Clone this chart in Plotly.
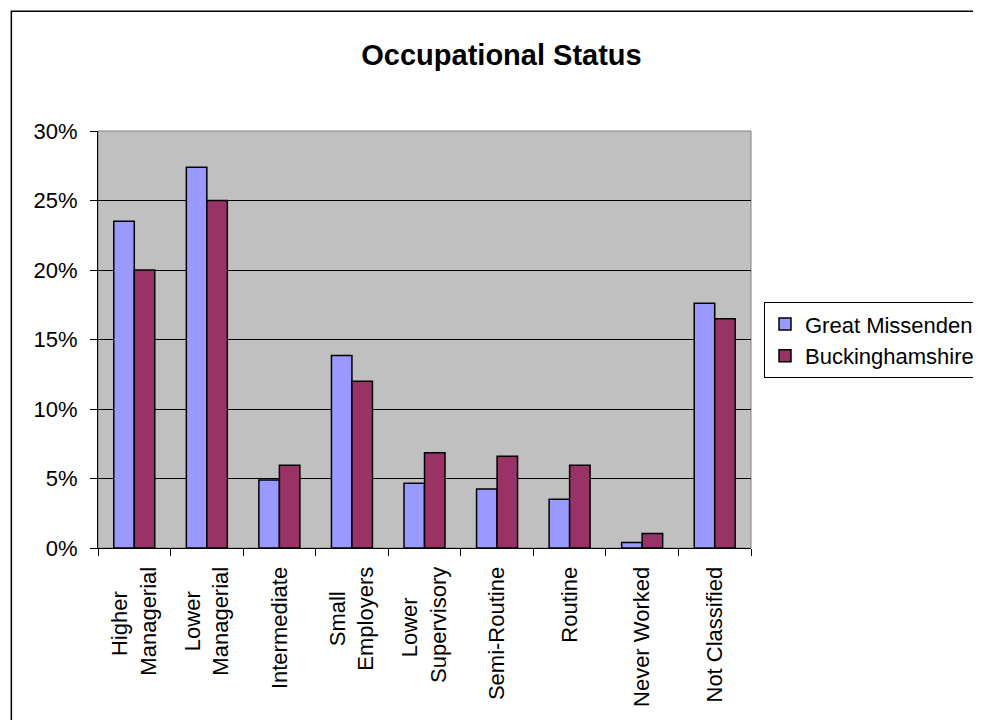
import plotly.graph_objects as go

categories = ["Higher Managerial", "Lower Managerial", "Intermediate", "Small Employers",
              "Lower Supervisory", "Semi-Routine", "Routine", "Never Worked", "Not Classified"]
great_missenden = [23.5, 27.4, 4.9, 13.85, 4.65, 4.25, 3.5, 0.4, 17.6]
buckinghamshire = [20.0, 25.0, 5.95, 12.0, 6.85, 6.6, 5.95, 1.05, 16.5]
y_ticks = [0, 5, 10, 15, 20, 25, 30]

# display text for wrapped tick labels (short line padded so the two lines appear centred)
NB = "\u00a0"
tick_text = ["Higher" + NB * 4 + "<br>Managerial", "Lower" + NB * 4 + "<br>Managerial",
             "Intermediate", "Small" + NB * 4 + "<br>Employers",
             "Lower" + NB * 5 + "<br>Supervisory", "Semi-Routine", "Routine",
             "Never Worked", "Not Classified"]

OFF = 8  # page body margin
W, H = 981 - OFF, 720 - OFF
L, R, T, B = 97.7 - OFF, 751 - OFF, 130.7 - OFF, 547.7 - OFF

fig = go.Figure()
fig.add_trace(go.Bar(x=categories, y=great_missenden, name="Great Missenden",
                     marker=dict(color="#9999FF", line=dict(color="black", width=1.5))))
fig.add_trace(go.Bar(x=categories, y=buckinghamshire, name="Buckinghamshire",
                     marker=dict(color="#993366", line=dict(color="black", width=1.5))))

def px_x(p):
    return (p - OFF - L) / (R - L)

def px_y(p):
    return (B - (p - OFF)) / (B - T)

fig.update_layout(
    width=W, height=H,
    margin=dict(l=L, r=W - R, t=T, b=H - B, pad=0, autoexpand=False),
    paper_bgcolor="white",
    plot_bgcolor="#C0C0C0",
    font=dict(family="Liberation Sans, Arial, sans-serif", size=22, color="black"),
    title=dict(text="<b>Occupational Status</b>", x=(501.5 - OFF) / W, xref="container",
               xanchor="center", y=1 - (55 - OFF) / H, yref="container", yanchor="middle",
               font=dict(size=29, color="black")),
    barmode="group", bargap=0.435, bargroupgap=0,
    showlegend=True,
    legend=dict(x=px_x(764), y=px_y(302), xanchor="left", yanchor="top",
                bordercolor="black", borderwidth=1, bgcolor="white",
                font=dict(size=22), itemwidth=30, tracegroupgap=4),
    xaxis=dict(showline=True, linecolor="black", linewidth=1, ticks="outside", ticklen=7,
               tickcolor="black", tickson="boundaries", tickangle=-90, showgrid=False,
               tickmode="array", tickvals=categories, ticktext=tick_text,
               ticklabelstandoff=9, tickfont=dict(size=22)),
    yaxis=dict(range=[0, 30], tickvals=y_ticks, ticktext=[f"{v}%" for v in y_ticks],
               showline=True, linecolor="black", linewidth=1, ticks="outside", ticklen=7,
               tickcolor="black", showgrid=True, gridcolor="black", gridwidth=1,
               zeroline=False, ticklabelstandoff=8, tickfont=dict(size=22)),
    shapes=[
        dict(type="rect", xref="paper", yref="paper", x0=0, x1=1, y0=0, y1=1,
             line=dict(color="#808080", width=1), fillcolor="rgba(0,0,0,0)", layer="below"),
        dict(type="rect", xref="paper", yref="paper", x0=px_x(11), x1=px_x(1100),
             y0=px_y(900), y1=px_y(11), line=dict(color="black", width=1.5),
             fillcolor="rgba(0,0,0,0)", layer="above"),
    ],
)

fig.write_html("out.html")
